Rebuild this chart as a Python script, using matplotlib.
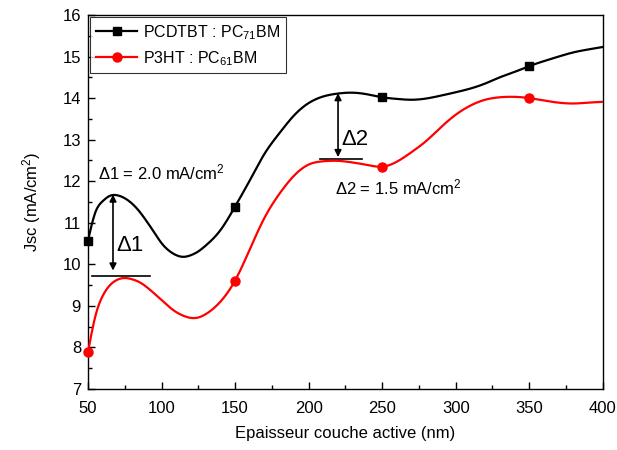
import matplotlib
matplotlib.use('Agg')
import matplotlib.pyplot as plt
import numpy as np
from matplotlib.ticker import MultipleLocator

plt.rcParams['font.family'] = ['Liberation Sans', 'DejaVu Sans']
plt.rcParams['mathtext.fontset'] = 'custom'
plt.rcParams['mathtext.rm'] = 'Liberation Sans'
plt.rcParams['mathtext.it'] = 'Liberation Sans'

# mesured points (markers)
x_pts = [50, 150, 250, 350]
pcdtbt_pts = [10.57, 11.39, 14.02, 14.77]
p3ht_pts = [7.89, 9.61, 12.35, 14.0]

# smooth curves
x_curve = [50, 55, 60, 65, 70, 75, 80, 85, 90, 95, 100, 105, 110, 115, 120, 125, 130,
           140, 150, 160, 170, 180, 190, 200, 210, 220, 230, 240, 250, 260, 270, 280,
           290, 300, 310, 320, 330, 340, 350, 360, 370, 380, 390, 400]
pcdtbt_curve = [10.57, 11.25, 11.52, 11.65, 11.66, 11.59, 11.46, 11.27, 11.03, 10.77,
                10.51, 10.33, 10.22, 10.18, 10.22, 10.31, 10.45,
                10.82, 11.39, 12.02, 12.66, 13.15, 13.58, 13.88, 14.04, 14.11, 14.13, 14.09,
                14.02, 13.98, 13.96, 13.99, 14.06, 14.14, 14.23, 14.35, 14.5, 14.63, 14.77,
                14.89, 15.0, 15.1, 15.17, 15.23]
p3ht_curve = [7.89, 8.75, 9.24, 9.5, 9.63, 9.67, 9.64, 9.57, 9.45, 9.3, 9.14, 8.98, 8.85,
              8.76, 8.71, 8.72, 8.8, 9.1, 9.61, 10.36, 11.12, 11.69, 12.13, 12.4, 12.48,
              12.49, 12.45, 12.39, 12.35, 12.47, 12.7, 12.97, 13.3, 13.6, 13.82, 13.96,
              14.02, 14.03, 14.0, 13.94, 13.89, 13.87, 13.89, 13.91]


# courbe lissée (spline cubique naturelle) pour le tracé, comme le B-spline d'Origin
def smooth(x, y, n=600):
    x = np.asarray(x, float)
    y = np.asarray(y, float)
    h = np.diff(x)
    m = len(x)
    A = np.zeros((m, m))
    b = np.zeros(m)
    A[0, 0] = A[-1, -1] = 1
    for i in range(1, m - 1):
        A[i, i - 1] = h[i - 1]
        A[i, i] = 2 * (h[i - 1] + h[i])
        A[i, i + 1] = h[i]
        b[i] = 6 * ((y[i + 1] - y[i]) / h[i] - (y[i] - y[i - 1]) / h[i - 1])
    M = np.linalg.solve(A, b)
    xs = np.linspace(x[0], x[-1], n)
    k = np.clip(np.searchsorted(x, xs) - 1, 0, m - 2)
    t1 = x[k + 1] - xs
    t0 = xs - x[k]
    hk = h[k]
    ys = (M[k] * t1 ** 3 + M[k + 1] * t0 ** 3) / (6 * hk) \
        + (y[k] / hk - M[k] * hk / 6) * t1 + (y[k + 1] / hk - M[k + 1] * hk / 6) * t0
    return xs, ys


fig = plt.figure(figsize=(6.17, 4.5), dpi=100)
ax = fig.add_axes([0.1426, 0.1356, 0.8344, 0.8311])

xs, ys = smooth(x_curve, pcdtbt_curve)
ax.plot(xs, ys, color='black', linewidth=1.6, zorder=3)
xs, ys = smooth(x_curve, p3ht_curve)
ax.plot(xs, ys, color='red', linewidth=1.6, zorder=3)
ax.plot(x_pts, pcdtbt_pts, 's', color='black', markersize=6, zorder=4, clip_on=False)
ax.plot(x_pts, p3ht_pts, 'o', color='red', markersize=6.5, zorder=4, clip_on=False)

# legende
h1, = ax.plot([], [], '-s', color='black', linewidth=1.6, markersize=6)
h2, = ax.plot([], [], '-o', color='red', linewidth=1.6, markersize=6.5)
leg = ax.legend([h1, h2], ['PCDTBT : PC$_{71}$BM', 'P3HT : PC$_{61}$BM'],
                loc='upper left', fontsize=11.5, frameon=True, fancybox=False,
                edgecolor='black', borderaxespad=0.15, handlelength=2.6,
                handletextpad=0.35, borderpad=0.35, labelspacing=0.45)
leg.get_frame().set_linewidth(0.8)

# delta 1
ax.annotate('', xy=(67, 9.85), xytext=(67, 11.68),
            arrowprops=dict(arrowstyle='<|-|>', color='black', lw=1.2,
                            mutation_scale=10, shrinkA=0, shrinkB=0))
ax.plot([52.7, 92], [9.71, 9.71], color='black', linewidth=1.2)
ax.text(69.5, 10.45, 'Δ1', fontsize=16, ha='left', va='center')
ax.text(57, 12.2, 'Δ1 = 2.0 mA/cm$^2$', fontsize=12, ha='left', va='center')

# delta 2
ax.annotate('', xy=(220, 12.58), xytext=(220, 14.12),
            arrowprops=dict(arrowstyle='<|-|>', color='black', lw=1.2,
                            mutation_scale=10, shrinkA=0, shrinkB=0))
ax.plot([207.7, 236.2], [12.53, 12.53], color='black', linewidth=1.2)
ax.text(222.5, 13.0, 'Δ2', fontsize=16, ha='left', va='center')
ax.text(218, 11.85, 'Δ2 = 1.5 mA/cm$^2$', fontsize=12, ha='left', va='center')

ax.set_xlim(50, 400)
ax.set_ylim(7, 16)
ax.xaxis.set_major_locator(MultipleLocator(50))
ax.xaxis.set_minor_locator(MultipleLocator(25))
ax.yaxis.set_major_locator(MultipleLocator(1))
ax.yaxis.set_minor_locator(MultipleLocator(0.5))
ax.tick_params(which='both', direction='in', top=False, right=False, labelsize=12)
ax.tick_params(which='major', length=5, width=1)
ax.tick_params(which='minor', length=3, width=1)
ax.tick_params(axis='x', which='major', pad=9)
ax.tick_params(axis='y', which='major', pad=5)
for s in ax.spines.values():
    s.set_linewidth(1.0)

ax.set_xlabel('Epaisseur couche active (nm)', fontsize=12, labelpad=7)
ax.set_ylabel('Jsc (mA/cm$^2$)', fontsize=12, labelpad=14)

plt.savefig('out.png', dpi=100)
plt.close()
